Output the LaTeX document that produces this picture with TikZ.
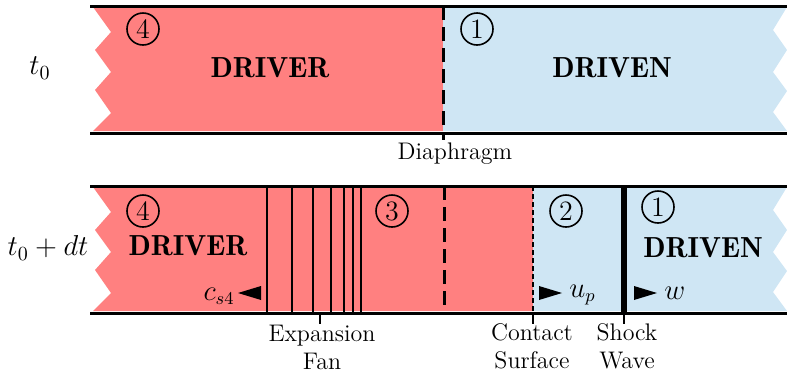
\documentclass[tikz,border=0pt]{standalone}
\usepackage{fontspec}
\definecolor{drivercol}{RGB}{255,128,128}
\definecolor{drivencol}{RGB}{207,230,244}
\begin{document}
\begin{tikzpicture}[x=0.5pt,y=-0.5pt,
  wall/.style={line width=1.5pt},
  fanline/.style={line width=1.2pt},
  shockline/.style={line width=2.6pt},
  diaphline/.style={line width=1.5pt,dash pattern=on 7pt off 3.5pt},
  contactline/.style={line width=1.2pt,dash pattern=on 2.5pt off 1.5pt},
  tickline/.style={line width=1pt},
  circnum/.style={circle,draw,line width=0.8pt,inner sep=0pt,minimum size=16pt,font=\fontsize{14}{14}\selectfont},
  regionlabel/.style={font=\fontsize{14.5}{17}\fontseries{b}\selectfont},
  caption/.style={font=\fontsize{12}{14}\selectfont,align=center,inner sep=1pt},
  timelabel/.style={font=\fontsize{14.5}{16}\selectfont},
  vel/.style={font=\fontsize{13.5}{15}\selectfont,inner sep=1pt}]
\useasboundingbox (0,0) rectangle (787,381);

% ---------- band at t0 ----------
\fill[drivercol] (93,7) -- (111,32) -- (95,50) -- (111,72) -- (95,90) -- (111,113) -- (93,131)
  -- (443,131) -- (443,7) -- cycle;
\fill[drivencol] (443,7) -- (787,7) -- (773,30) -- (787,50) -- (773,72) -- (787,91)
  -- (773,112) -- (787,131) -- (443,131) -- cycle;
\draw[wall] (90,6) -- (787,6);
\draw[wall] (90,133) -- (787,133);
\coordinate (dtop) at (443,6);
\coordinate (dbot) at (443,140);
\draw[diaphline] (dtop) -- (dbot);
\node[caption,anchor=north] (diaph) at (455,140) {Diaphragm};

\node[timelabel] (ta) at (40,68) {$t_0$};
\node[circnum] (c4a) at (143,29) {4};
\node[circnum] (c1a) at (477,29) {1};
\node[regionlabel] (drivera) at (270,68) {DRIVER};
\node[regionlabel] (drivena) at (612,68) {DRIVEN};

% ---------- band at t0 + dt ----------
\fill[drivercol] (93,187) -- (111,212) -- (95,230) -- (111,252) -- (95,270) -- (111,293) -- (93,311)
  -- (533,311) -- (533,187) -- cycle;
\fill[drivencol] (533,187) -- (787,187) -- (773,210) -- (787,230) -- (773,252) -- (787,271)
  -- (773,292) -- (787,311) -- (533,311) -- cycle;
\draw[wall] (90,186) -- (787,186);
\draw[wall] (90,313) -- (787,313);

% expansion fan
\foreach \xx in {267,292,313,331,344,353,361}
  \draw[fanline] (\xx,186) -- (\xx,313);
% original diaphragm position
\draw[diaphline] (444,186) -- (444,313);
% contact surface and shock
\coordinate (cstop) at (533,186);
\coordinate (csbot) at (533,324);
\draw[contactline] (cstop) -- (533,313);
\draw[tickline] (533,313) -- (csbot);
\coordinate (swtop) at (624,186);
\coordinate (swbot) at (624,324);
\draw[shockline] (swtop) -- (624,313);
\draw[tickline] (624,313) -- (swbot);
\coordinate (fantop) at (320,313);
\coordinate (fanbot) at (320,324);
\draw[tickline] (fantop) -- (fanbot);

\node[timelabel] (tb) at (48,248) {$t_0 + dt$};
\node[circnum] (c4b) at (143,211) {4};
\node[circnum] (c3b) at (392,211) {3};
\node[circnum] (c2b) at (566,211) {2};
\node[circnum] (c1b) at (658,207) {1};
\node[regionlabel] (driverb) at (188,246) {DRIVER};
\node[regionlabel] (drivenb) at (703,248) {DRIVEN};

% wave speeds
\fill (238,293) -- (261,286) -- (261,300) -- cycle;
\node[vel,anchor=east] (cs4) at (237,296) {$c_{s4}$};
\fill (562,293) -- (539,286) -- (539,300) -- cycle;
\node[vel,anchor=west] (up) at (567,295) {$u_p$};
\fill (657,293) -- (634,286) -- (634,300) -- cycle;
\node[vel,anchor=west] (wv) at (662,293) {$w$};

% captions
\node[caption,anchor=north] (fan) at (322,323) {Expansion\\Fan};
\node[caption,anchor=north] (cs) at (532,321) {Contact\\Surface};
\node[caption,anchor=north] (sw) at (627,321) {Shock\\Wave};
\end{tikzpicture}
\end{document}
